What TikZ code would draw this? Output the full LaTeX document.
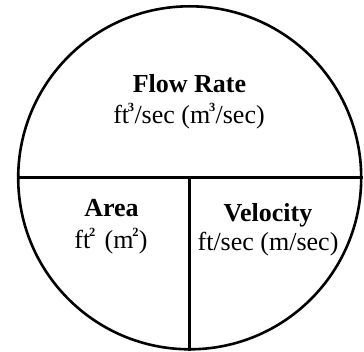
\documentclass[tikz,border=0pt]{standalone}
\usepackage{fontspec}
\setmainfont{Liberation Serif}
\newcommand{\sups}[1]{\kern-1.2pt\raisebox{12.5pt}{\fontsize{12.5}{13}\selectfont\bfseries #1}\kern0.3pt}
\begin{document}
\begin{tikzpicture}[x=1pt,y=-1pt,
  lbl/.style={anchor=base,inner sep=0pt,font=\fontsize{26}{30}\selectfont},
  blbl/.style={lbl,font=\fontsize{26}{30}\selectfont\bfseries},
  rule/.style={line width=2.6pt}]
\useasboundingbox (0,0) rectangle (364,352);
\node[circle,draw,rule,minimum size=343pt,inner sep=0pt] (c) at (189.7,177.8) {};
\draw[rule] (c.west) -- (c.east);
\draw[rule] (c.center) -- (c.south);
\node[blbl] (flow) at (189.5,93) {Flow Rate};
\node[lbl] (flowu) at (189,124) {ft\sups{3}/sec (m\sups{3}/sec)};
\node[blbl] (area) at (111.5,217) {Area};
\node[lbl] (areau) at (111,249) {ft\sups{2}\hspace{9pt}(m\sups{2})};
\node[blbl] (vel) at (268,222) {Velocity};
\node[lbl] (velu) at (268,251) {ft/sec (m/sec)};
\end{tikzpicture}
\end{document}
